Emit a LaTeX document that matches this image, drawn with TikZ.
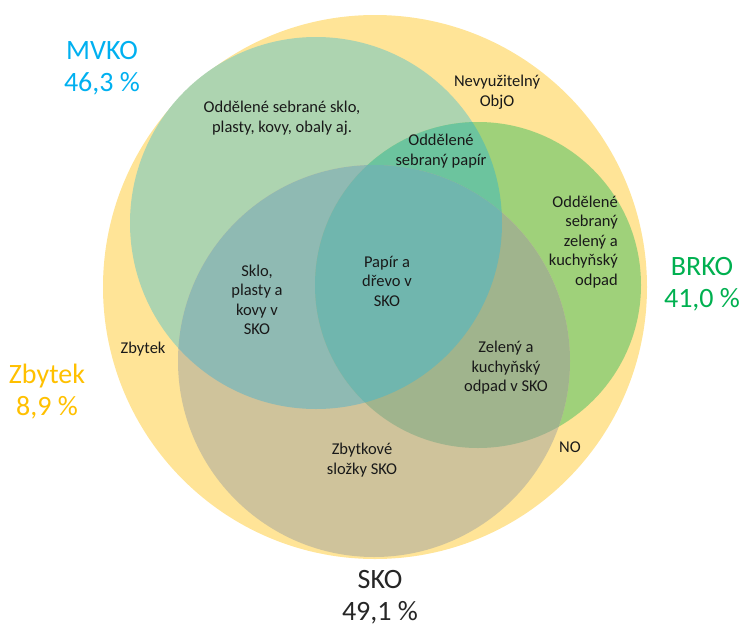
\documentclass[tikz,border=0pt]{standalone}
\usepackage{fontspec}
\setmainfont{Carlito}
\definecolor{cyel}{RGB}{255,228,151}
\definecolor{cmv}{RGB}{173,212,176}
\definecolor{cbr}{RGB}{159,209,122}
\definecolor{csko}{RGB}{207,195,155}
\definecolor{cmvbr}{RGB}{108,196,158}
\definecolor{cmvsko}{RGB}{143,186,179}
\definecolor{cbrsko}{RGB}{160,180,141}
\definecolor{call}{RGB}{112,182,174}
\definecolor{tmv}{RGB}{0,176,240}
\definecolor{tbr}{RGB}{0,176,80}
\definecolor{tzb}{RGB}{255,192,0}
\begin{document}
\begin{tikzpicture}[x=1pt,y=-1pt,
  lbl/.style={font=\fontsize{16.5}{19.5}\selectfont, align=center, inner sep=0pt, text=black!90},
  big/.style={font=\fontsize{28}{32}\selectfont, align=center, inner sep=0pt}]
\useasboundingbox (0,0) rectangle (739,627);
\def\Cyel{(375,287) circle (272pt)}
\def\Cmv{(316,223) circle (186pt)}
\def\Cbr{(478,285) circle (163pt)}
\def\Csko{(374,361) circle (196pt)}
\fill[cyel] \Cyel;
\fill[cmv] \Cmv;
\fill[cbr] \Cbr;
\fill[csko] \Csko;
\begin{scope}\clip \Cmv; \fill[cmvbr] \Cbr; \end{scope}
\begin{scope}\clip \Csko; \fill[cmvsko] \Cmv; \end{scope}
\begin{scope}\clip \Csko; \fill[cbrsko] \Cbr; \end{scope}
\begin{scope}\clip \Csko; \clip \Cmv; \fill[call] \Cbr; \end{scope}

\node[big, text=tmv] (mvko) at (102,68) {MVKO\\46,3 \%};
\node[big, text=tbr] (brko) at (702,284) {BRKO\\41,0 \%};
\node[big, text=tzb] (zbyt) at (47,392) {Zbytek\\8,9 \%};
\node[big, text=black!85] (sko) at (380,597) {SKO\\49,1 \%};

\node[lbl] (osk) at (282,118) {Oddělené sebrané sklo,\\plasty, kovy, obaly aj.};
\node[lbl] (nev) at (497,92) {Nevyužitelný\\ObjO};
\node[lbl] (pap) at (441,151) {Oddělené\\sebraný papír};
\node[lbl, align=right, anchor=east] (zel) at (618,242) {Oddělené\\sebraný\\zelený a\\kuchyňský\\odpad};
\node[lbl] (pd) at (387,281) {Papír a\\dřevo v\\SKO};
\node[lbl] (spk) at (257,300) {Sklo,\\plasty a\\kovy v\\SKO};
\node[lbl] (zb) at (143,349) {Zbytek};
\node[lbl] (zks) at (506,368) {Zelený a\\kuchyňský\\odpad v SKO};
\node[lbl] (zsl) at (362,460) {Zbytkové\\složky SKO};
\node[lbl] (no) at (570,447) {NO};
\end{tikzpicture}
\end{document}
